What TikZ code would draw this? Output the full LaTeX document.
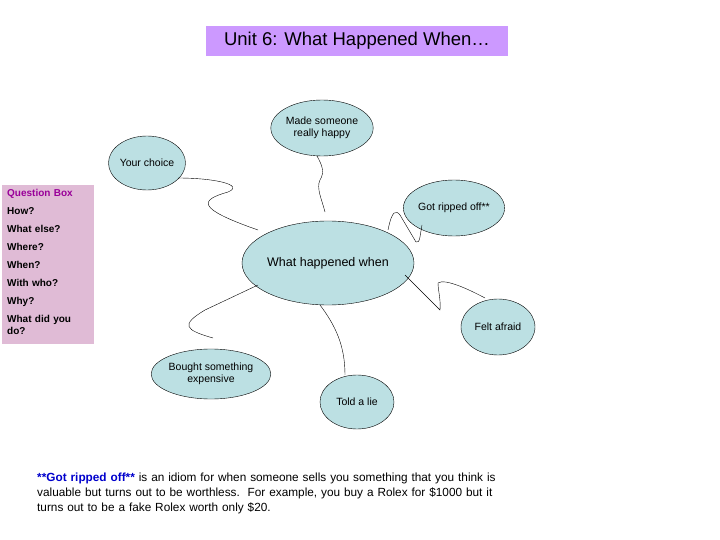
\documentclass[tikz,border=0pt]{standalone}
\usepackage{fontspec}
\setmainfont{Liberation Sans}
\usetikzlibrary{shapes.geometric}
\definecolor{bub}{HTML}{BCE0E3}
\definecolor{ttl}{HTML}{CC99FF}
\definecolor{qb}{HTML}{E0BBD6}
\begin{document}
\begin{tikzpicture}[x=1pt,y=-1pt,
  bubble/.style={ellipse,draw,fill=bub,inner sep=0pt,font=\fontsize{10.5}{12.5}\selectfont,align=center},
  wire/.style={draw,thin}]
\useasboundingbox (0,0) rectangle (720,540);
\node[fill=ttl,minimum width=302pt,minimum height=30pt,font=\fontsize{18.5}{20}\selectfont] (title) at (357,41) {Unit 6: What Happened When…};
\node[bubble,minimum width=72pt,minimum height=56pt] (made) at (322,128) {Made someone\\really happy};
\node[bubble,minimum width=74pt,minimum height=54pt] (your) at (147,163) {Your choice};
\node[bubble,minimum width=74pt,minimum height=56pt] (got) at (454,208) {Got ripped off**};
\node[bubble,minimum width=124pt,minimum height=84pt,font=\fontsize{12.5}{14}\selectfont] (c) at (328,263) {What happened when};
\node[bubble,minimum width=74pt,minimum height=56pt] (felt) at (498,327) {Felt afraid};
\node[bubble,minimum width=94pt,minimum height=50pt] (bought) at (211,374) {Bought something\\expensive};
\node[bubble,minimum width=74pt,minimum height=54pt] (told) at (357,402) {Told a lie};
\node[fill=qb,minimum width=92pt,minimum height=159pt,anchor=north west] (qbox) at (2,185) {};
\node[anchor=north west,align=left,font=\fontsize{10}{18}\selectfont\bfseries,text width=84pt,inner sep=0pt] (qtext) at (7,189)
 {\textcolor{violet!80!magenta}{Question Box}\\How?\\What else?\\Where?\\When?\\With who?\\Why?\\What did you\\[-6pt]do?};
\coordinate (a1) at (178,178);
\coordinate (a2) at (258,230);
\draw[wire] (a1) .. controls (215,178) and (245,185) .. (228,192) .. controls (200,200) and (195,208) .. (a2);
\coordinate (b1) at (317,156);
\coordinate (b2) at (325,212);
\draw[wire] (b1) .. controls (322,165) and (325,172) .. (320,180) .. controls (316,188) and (322,200) .. (b2);
\coordinate (g1) at (388,230);
\draw[wire] (g1) .. controls (392,210) and (396,210) .. (400,215) -- (416,242) .. controls (420,244) and (420,235) .. (422,225);
\coordinate (f1) at (405,275);
\draw[wire] (f1) -- (440,310) .. controls (441,300) and (438,290) .. (438,283) .. controls (445,278) and (470,290) .. (485,298);
\coordinate (h1) at (258,285);
\draw[wire] (h1) -- (205,310) .. controls (180,325) and (185,330) .. (213,338);
\coordinate (t1) at (320,305);
\draw[wire] (t1) .. controls (335,325) and (345,345) .. (345,375);
\node[anchor=north west,align=left,text width=520pt,inner sep=0pt,font=\fontsize{11.8}{15}\selectfont] (note) at (37,473)
 {\textcolor{blue!80!black}{\bfseries **Got ripped off**} is an idiom for when someone sells you something that you think is\\valuable but turns out to be worthless.\ \ For example, you buy a Rolex for \$1000 but it\\turns out to be a fake Rolex worth only \$20.};
\end{tikzpicture}
\end{document}
